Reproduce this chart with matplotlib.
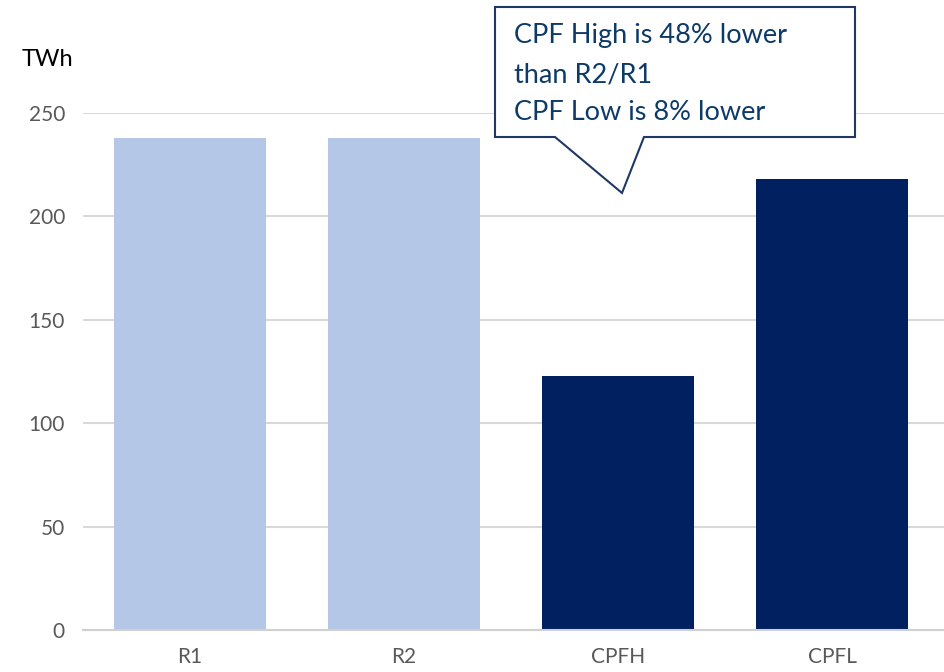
import matplotlib.pyplot as plt
from matplotlib.patches import Polygon

categories = ["R1", "R2", "CPFH", "CPFL"]
values = [238, 238, 123, 218]
colors = ["#b4c7e7", "#b4c7e7", "#002060", "#002060"]
yticks = [0, 50, 100, 150, 200, 250]
note_lines = ["CPF High is 48% lower", "than R2/R1", "CPF Low is 8% lower"]

plt.rcParams['font.family'] = ['Lato', 'DejaVu Sans']

fig = plt.figure(figsize=(9.44, 6.72), dpi=100)
ax = fig.add_axes([83 / 944, 1 - 630 / 672, (944 - 83) / 944, (630 - 113) / 672])

x = range(len(categories))
ax.bar(x, values, width=0.71, color=colors, zorder=2)

ax.set_xlim(-0.5, 3.523)
ax.set_ylim(0, 250)
ax.set_yticks(yticks)
ax.set_xticks(list(x))
ax.set_xticklabels(categories)
ax.grid(axis="y", color="#d9d9d9", linewidth=1.5, zorder=0)
ax.set_axisbelow(True)
for s in ["top", "right", "left"]:
    ax.spines[s].set_visible(False)
ax.spines["bottom"].set_color("#d0d0d0")
ax.spines["bottom"].set_linewidth(1.5)
ax.tick_params(axis="both", length=0, labelsize=15, colors="#595959")
ax.tick_params(axis="y", pad=13)
ax.tick_params(axis="x", pad=12)

fig.text(22 / 944, 1 - 59 / 672, "TWh", fontsize=17, color="black", va="center")

# callout box with pointer (figure pixel coords)
W, H = 944, 672
pts = [(495, 7), (855, 7), (855, 137), (644, 137), (622, 193), (555, 137), (495, 137)]
poly = Polygon([(px / W, 1 - py / H) for px, py in pts], closed=True,
               transform=fig.transFigure, facecolor="white", edgecolor="#1f3864",
               linewidth=1.5, zorder=5)
fig.patches.append(poly)

for line, py in zip(note_lines, [36, 75, 113]):
    fig.text(514 / W, 1 - py / H, line, fontsize=19.5, color="#0d3a66",
             va="center", zorder=6)

fig.savefig("out.png", dpi=100)
